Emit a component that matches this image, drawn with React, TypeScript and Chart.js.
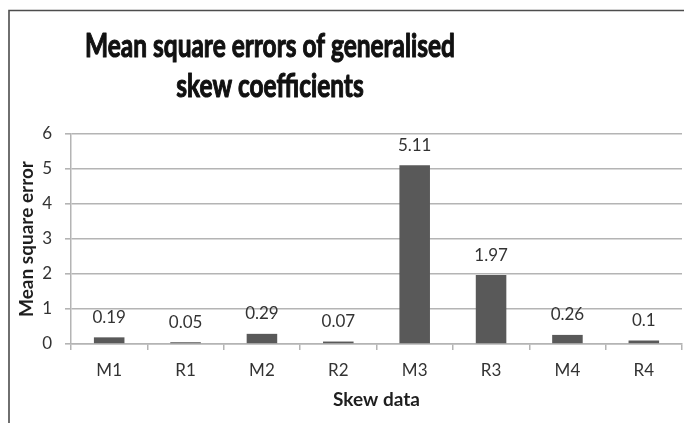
import React, { useEffect, useRef } from "react";
import { Chart, registerables } from "chart.js";

Chart.register(...registerables);

const categories = ["M1", "R1", "M2", "R2", "M3", "R3", "M4", "R4"];
const mseValues = [0.19, 0.05, 0.29, 0.07, 5.11, 1.97, 0.26, 0.1];
const titleLines = ["Mean square errors of generalised", "skew coefficients"];
const yAxisTitle = "Mean square error";
const xAxisTitle = "Skew data";
const yMin = 0;
const yMax = 6;
const yStep = 1;

const FONT = "Lato, 'Open Sans', sans-serif";
const GRID = "#b4b4b4";

const framePlugin = {
  id: "frame",
  beforeDraw(chart: any) {
    const ctx = chart.ctx;
    ctx.save();
    ctx.fillStyle = "#ffffff";
    ctx.fillRect(0, 0, chart.width, chart.height);
    ctx.strokeStyle = "#4d4d4d";
    ctx.lineWidth = 1.6;
    ctx.beginPath();
    ctx.moveTo(9, chart.height);
    ctx.lineTo(9, 10.5);
    ctx.lineTo(chart.width, 10.5);
    ctx.stroke();
    ctx.restore();
  },
};

const titlePlugin = {
  id: "stretchedTitle",
  afterDraw(chart: any) {
    const ctx = chart.ctx;
    ctx.save();
    ctx.fillStyle = "#111111";
    ctx.strokeStyle = "#111111";
    ctx.lineWidth = 1.1;
    ctx.lineJoin = "round";
    ctx.font = `bold 32px ${FONT}`;
    ctx.textAlign = "center";
    ctx.textBaseline = "alphabetic";
    const w0 = ctx.measureText(titleLines[0]).width;
    const sx = 370 / w0;
    const cx = 270;
    const baselines = [57, 97];
    titleLines.forEach((line, i) => {
      ctx.save();
      ctx.translate(cx, baselines[i]);
      ctx.scale(sx, 1);
      ctx.fillText(line, 0, 0);
      ctx.strokeText(line, 0, 0);
      ctx.restore();
    });
    ctx.restore();
  },
};

const valueLabelPlugin = {
  id: "valueLabels",
  afterDatasetsDraw(chart: any) {
    const ctx = chart.ctx;
    const meta = chart.getDatasetMeta(0);
    ctx.save();
    ctx.fillStyle = "#333333";
    ctx.font = `17px ${FONT}`;
    ctx.textAlign = "center";
    ctx.textBaseline = "middle";
    meta.data.forEach((bar: any, i: number) => {
      ctx.fillText(String(mseValues[i]), bar.x, bar.y - 20);
    });
    ctx.restore();
  },
};

export default function App() {
  const canvasRef = useRef<HTMLCanvasElement | null>(null);

  useEffect(() => {
    if (!canvasRef.current) return;
    const chart = new Chart(canvasRef.current, {
      type: "bar",
      data: {
        labels: categories,
        datasets: [
          {
            data: mseValues,
            backgroundColor: "#595959",
            borderWidth: 0,
            categoryPercentage: 0.8,
            barPercentage: 0.5,
          },
        ],
      },
      options: {
        responsive: false,
        animation: false,
        devicePixelRatio: 1,
        layout: { padding: { top: 134, left: 0, right: 2, bottom: 0 } },
        plugins: {
          legend: { display: false },
          title: { display: false },
          tooltip: { enabled: false },
        },
        scales: {
          x: {
            afterFit(scale: any) {
              scale.height = 79;
            },
            grid: {
              display: true,
              drawOnChartArea: false,
              drawTicks: true,
              tickLength: 6,
              color: GRID,
              lineWidth: 1.5,
              offset: true,
            },
            border: { display: true, color: GRID, width: 1.6 },
            ticks: {
              color: "#333333",
              font: { family: FONT, size: 17 },
              padding: 10,
              maxRotation: 0,
            },
            title: {
              display: true,
              text: xAxisTitle,
              color: "#1e1e1e",
              font: { family: FONT, size: 19, weight: "bold" },
              padding: { top: 12, bottom: 12 },
            },
          },
          y: {
            min: yMin,
            max: yMax,
            afterFit(scale: any) {
              scale.width = 71;
            },
            grid: {
              color: GRID,
              lineWidth: 1.6,
              drawTicks: true,
              tickLength: 6,
            },
            border: { display: true, color: GRID, width: 1.5 },
            ticks: {
              stepSize: yStep,
              color: "#333333",
              font: { family: FONT, size: 17 },
              padding: 13,
            },
            title: {
              display: true,
              text: yAxisTitle,
              color: "#1e1e1e",
              font: { family: FONT, size: 19, weight: "bold" },
              padding: { top: 15, bottom: 15 },
            },
          },
        },
      },
      plugins: [framePlugin, titlePlugin, valueLabelPlugin],
    });
    return () => chart.destroy();
  }, []);

  return (
    <div style={{ position: "fixed", left: 0, top: 0, width: 684, height: 423 }}>
      <canvas ref={canvasRef} width={684} height={423} />
    </div>
  );
}
